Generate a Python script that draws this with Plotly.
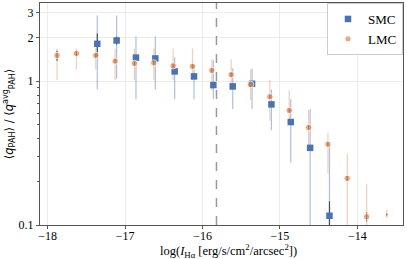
import plotly.graph_objects as go

# ---- data ----
smc_x = [-17.36, -17.11, -16.86, -16.61, -16.36, -16.11, -15.86, -15.61, -15.36, -15.11, -14.86, -14.61, -14.36]
smc_y = [1.82, 1.92, 1.46, 1.44, 1.17, 1.08, 0.94, 0.92, 0.96, 0.69, 0.52, 0.344, 0.116]
smc_hi = [2.87, 2.87, 2.05, 2.05, 1.46, 1.30, 1.40, 1.23, 1.22, 0.875, 0.75, 0.64, 0.36]
smc_lo = [0.88, 1.04, 0.75, 0.88, 0.75, 0.75, 0.75, 0.64, 0.64, 0.457, 0.272, 0.05, 0.05]
smc_err2 = [0.33, 0.12, 0.05, 0.05, 0.04, 0.04, 0.03, 0.03, 0.03, 0.025, 0.02, 0.015, 0.03]

lmc_x = [-17.88, -17.63, -17.38, -17.13, -16.88, -16.63, -16.38, -16.13, -15.88, -15.63, -15.38, -15.13,
         -14.88, -14.63, -14.38, -14.13, -13.88, -13.62]
lmc_y = [1.51, 1.56, 1.51, 1.38, 1.33, 1.34, 1.28, 1.27, 1.19, 1.11, 0.95, 0.78, 0.626, 0.477, 0.365, 0.211, 0.114, 0.118]
lmc_hi = [1.69, 1.69, 1.69, 1.69, 1.69, 1.69, 1.69, 1.69, 1.42, 1.42, 1.21, 1.02, 0.866, 0.63, 0.44, 0.315, 0.192, 0.128]
lmc_lo = [1.02, 1.21, 1.21, 1.02, 1.02, 1.02, 1.02, 1.02, 0.866, 0.87, 0.74, 0.53, 0.51, 0.33, 0.228, 0.05, 0.05, 0.112]
lmc_err2 = [0.12, 0.05, 0.05, 0.04, 0.04, 0.04, 0.04, 0.04, 0.04, 0.035, 0.03, 0.025, 0.02, 0.015, 0.012, 0.008, 0.008, 0.003]
lmc_size = [6.5] * 17 + [3]

x_ticks = [-18, -17, -16, -15, -14]
x_ticklabels = ["−18", "−17", "−16", "−15", "−14"]
y_ticks = [0.1, 1, 2, 3]
y_ticklabels = ["0.1", "1", "2", "3"]
y_minor = [0.2, 0.3, 0.4, 0.5, 0.6, 0.7, 0.8, 0.9]
vline_x = -15.82

BLUE = "#4C72B0"
ORANGE = "#DD8452"
SERIF = "Liberation Serif"

fig = go.Figure()


def add_errors(x, y, hi, lo, err2, light):
    plus = [h - v for h, v in zip(hi, y)]
    minus = [v - l for v, l in zip(y, lo)]
    fig.add_trace(go.Scatter(
        x=x, y=y, mode="markers", marker=dict(size=0.1, color="rgba(0,0,0,0)"),
        error_y=dict(type="data", symmetric=False, array=plus, arrayminus=minus,
                     color=light, thickness=1.2, width=0),
        showlegend=False, hoverinfo="skip"))
    fig.add_trace(go.Scatter(
        x=x, y=y, mode="markers", marker=dict(size=0.1, color="rgba(0,0,0,0)"),
        error_y=dict(type="data", array=err2, color="rgba(40,40,40,0.75)", thickness=1.2, width=0),
        showlegend=False, hoverinfo="skip"))


add_errors(smc_x, smc_y, smc_hi, smc_lo, smc_err2, "rgba(76,114,176,0.45)")
add_errors(lmc_x, lmc_y, lmc_hi, lmc_lo, lmc_err2, "rgba(221,132,82,0.4)")

fig.add_trace(go.Scatter(x=smc_x, y=smc_y, mode="markers", name="SMC",
                         marker=dict(size=6.5, color=BLUE, symbol="square")))
fig.add_trace(go.Scatter(x=lmc_x, y=lmc_y, mode="markers", name="LMC",
                         marker=dict(size=lmc_size, color=ORANGE, symbol="circle")))

fig.add_shape(type="line", xref="x", yref="paper", x0=vline_x, x1=vline_x, y0=0, y1=1,
              line=dict(color="#999999", width=1.5, dash="dash"))

fig.add_annotation(
    text="log(<i>I</i><sub>Hα</sub> [erg/s/cm<sup>2</sup>/arcsec<sup>2</sup>])",
    xref="paper", yref="paper", x=0.52, y=-0.116, xanchor="center", yanchor="middle",
    showarrow=False, font=dict(family=SERIF, size=12.5, color="black"))

fig.update_layout(
    width=407, height=259,
    margin=dict(l=40, r=4, t=3, b=34),
    paper_bgcolor="white", plot_bgcolor="white",
    font=dict(family=SERIF, size=12, color="black"),
    legend=dict(x=1, y=1, xanchor="right", yanchor="top",
                bordercolor="#cccccc", borderwidth=1, bgcolor="white",
                font=dict(family=SERIF, size=13), itemwidth=30,
                tracegroupgap=2),
)

fig.update_xaxes(
    range=[-18.1, -13.41], tickvals=x_ticks, ticktext=x_ticklabels,
    showgrid=True, gridcolor="#ececec", gridwidth=1,
    showline=True, linecolor="#555555", linewidth=1, mirror=True,
    ticks="outside", ticklen=3, tickcolor="#555555", zeroline=False,
    tickfont=dict(family=SERIF, size=12), ticklabelstandoff=-3,
)
fig.update_yaxes(
    type="log", range=[-1, 0.544], tickvals=y_ticks, ticktext=y_ticklabels,
    showgrid=True, gridcolor="#ececec", gridwidth=1,
    showline=True, linecolor="#555555", linewidth=1, mirror=True,
    ticks="outside", ticklen=3, tickcolor="#555555", zeroline=False,
    tickfont=dict(family=SERIF, size=12),
    minor=dict(tickvals=y_minor, ticks="outside", ticklen=2, tickcolor="#555555", showgrid=False),
    title=dict(text="⟨<i>q</i><sub>PAH</sub>⟩ / ⟨<i>q</i><sup>avg</sup><sub>PAH</sub>⟩",
               font=dict(family="DejaVu Sans", size=11.5), standoff=2),
)

fig.write_html("out.html", post_script="document.body.style.margin='0';",
               config={"displayModeBar": False})
